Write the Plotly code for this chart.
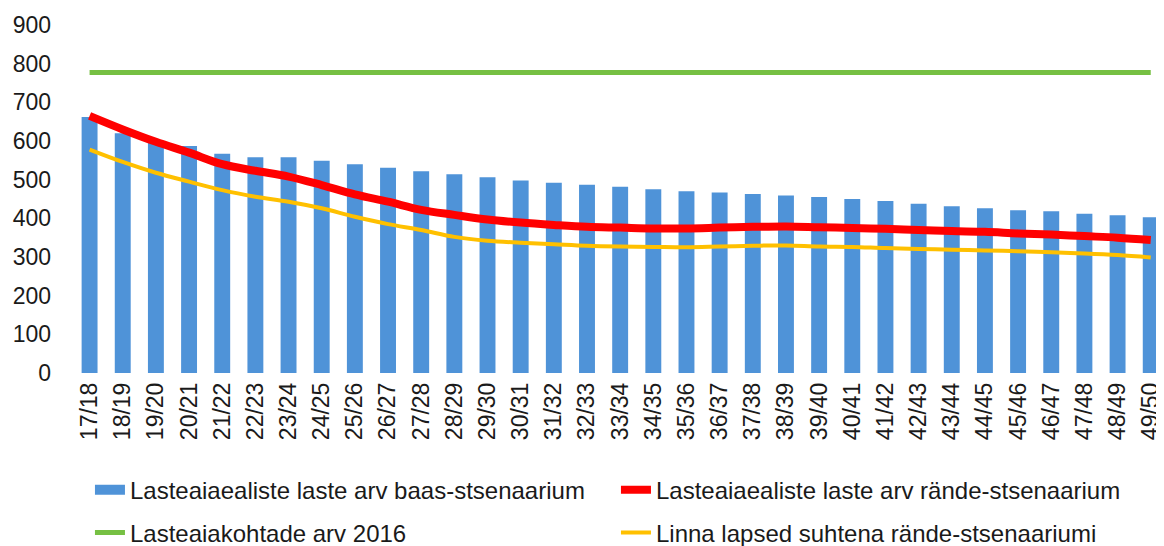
import plotly.graph_objects as go

periods = ["17/18", "18/19", "19/20", "20/21", "21/22", "22/23", "23/24", "24/25", "25/26",
           "26/27", "27/28", "28/29", "29/30", "30/31", "31/32", "32/33", "33/34", "34/35",
           "35/36", "36/37", "37/38", "38/39", "39/40", "40/41", "41/42", "42/43", "43/44",
           "44/45", "45/46", "46/47", "47/48", "48/49", "49/50"]

baas = [662, 620, 596, 587, 567, 558, 558, 549, 540, 531, 522, 514, 506, 498, 492, 487, 482,
        475, 470, 467, 463, 459, 455, 450, 445, 438, 431, 426, 421, 418, 412, 408, 403]

rande = [665, 630, 598, 570, 540, 523, 508, 486, 462, 443, 422, 409, 397, 389, 383, 378, 376,
         374, 374, 376, 378, 379, 377, 375, 373, 370, 367, 365, 361, 358, 354, 350, 344]

kohad = [777, 777, 777, 777, 777, 777, 777, 777, 777, 777, 777, 777, 777, 777, 777, 777, 777,
         777, 777, 777, 777, 777, 777, 777, 777, 777, 777, 777, 777, 777, 777, 777, 777]

linna = [578, 546, 518, 495, 473, 456, 443, 426, 404, 385, 370, 352, 342, 337, 333, 329, 327,
         326, 325, 327, 329, 330, 327, 326, 323, 321, 319, 317, 315, 312, 309, 305, 299]

FONT = "Liberation Sans, Arial, sans-serif"
BLUE = "#4f93d8"

fig = go.Figure()

fig.add_trace(go.Bar(x=periods, y=baas, marker_color=BLUE, marker_line_width=0,
                     name="Lasteaiaealiste laste arv baas-stsenaarium", showlegend=False,
                     legendgroup="baas"))
fig.add_trace(go.Scatter(x=periods, y=kohad, mode="lines", line=dict(color="#76c043", width=5),
                         name="Lasteaiakohtade arv 2016", legend="legend2"))
fig.add_trace(go.Scatter(x=periods, y=linna, mode="lines",
                         line=dict(color="#ffc000", width=4, shape="spline"),
                         name="Linna lapsed suhtena rände-stsenaariumi", legend="legend2"))
fig.add_trace(go.Scatter(x=periods, y=rande, mode="lines",
                         line=dict(color="#ff0000", width=8, shape="spline"),
                         name="Lasteaiaealiste laste arv rände-stsenaarium"))

# legend entry for the bars, drawn as a thick bar-coloured swatch like the original
fig.add_trace(go.Scatter(x=[None], y=[None], mode="lines", line=dict(color=BLUE, width=10),
                         name="Lasteaiaealiste laste arv baas-stsenaarium", legendgroup="baas",
                         legendrank=1))

# page body has an 8px margin, so the figure is sized to fill the rest of the window
fig.update_layout(
    width=1156, height=538,
    margin=dict(l=65, r=0, t=17, b=173),
    plot_bgcolor="white", paper_bgcolor="white",
    font=dict(family=FONT, size=23, color="#1a1a1a"),
    bargap=0.52,
    xaxis=dict(range=[-0.5, 32.4], tickangle=-90, showgrid=False, showline=False,
               ticks="", tickfont=dict(size=23), ticklabelstandoff=4),
    yaxis=dict(range=[0, 900], dtick=100, showgrid=False, showline=False, zeroline=False,
               ticks="", tickfont=dict(size=23), ticklabelstandoff=21),
    legend=dict(orientation="h", xref="container", yref="container", x=0.0709, y=0.104,
                yanchor="middle", entrywidth=481, traceorder="normal",
                font=dict(size=24), bgcolor="rgba(0,0,0,0)"),
    legend2=dict(orientation="h", xref="container", yref="container", x=0.0709, y=0.0242,
                 yanchor="middle", entrywidth=481, traceorder="normal",
                 font=dict(size=24), bgcolor="rgba(0,0,0,0)"),
)

fig.write_html("out.html")
